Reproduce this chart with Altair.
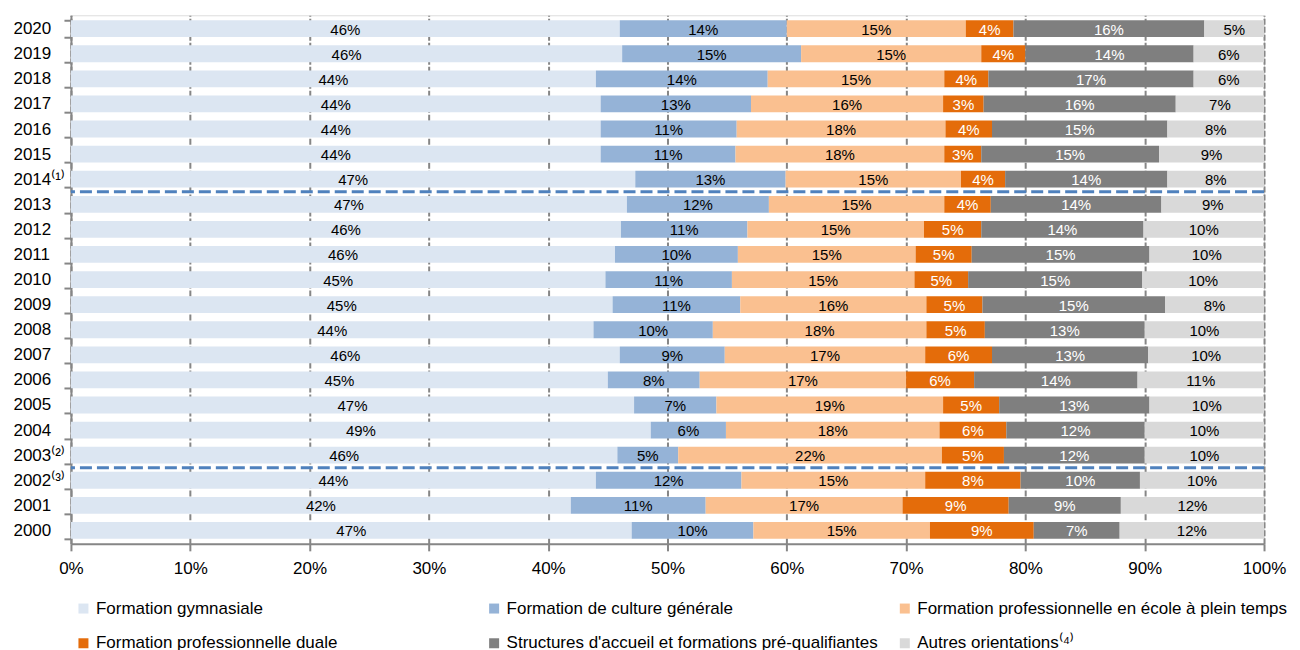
import altair as alt
import pandas as pd

years = ["2020", "2019", "2018", "2017", "2016", "2015", "2014⁽¹⁾", "2013", "2012", "2011",
         "2010", "2009", "2008", "2007", "2006", "2005", "2004", "2003⁽²⁾", "2002⁽³⁾", "2001", "2000"]
categories = ["Formation gymnasiale", "Formation de culture générale",
              "Formation professionnelle en école à plein temps", "Formation professionnelle duale",
              "Structures d'accueil et formations pré-qualifiantes", "Autres orientations⁽⁴⁾"]
colors = ["#DCE6F2", "#95B3D7", "#FAC090", "#E46C0A", "#7F7F7F", "#D9D9D9"]

gymnasiale = [46.0, 46.2, 44.0, 44.4, 44.4, 44.4, 47.3, 46.6, 46.1, 45.6, 44.8, 45.4, 43.8, 46.0, 45.0, 47.2, 48.6, 45.8, 44.0, 41.9, 47.0]
culture = [14.0, 15.0, 14.4, 12.6, 11.4, 11.3, 12.6, 11.9, 10.6, 10.3, 10.6, 10.7, 10.0, 8.8, 7.7, 6.9, 6.3, 5.1, 12.2, 11.3, 10.2]
ecole = [15.0, 15.1, 14.8, 16.1, 17.5, 17.5, 14.7, 14.7, 14.8, 14.9, 15.3, 15.6, 17.9, 16.8, 17.3, 19.0, 17.9, 22.1, 15.4, 16.5, 14.8]
duale = [4.0, 3.7, 3.7, 3.4, 3.9, 3.1, 3.7, 3.9, 4.8, 4.7, 4.5, 4.7, 4.9, 5.6, 5.7, 4.7, 5.6, 5.2, 8.0, 8.9, 8.7]
accueil = [16.0, 14.1, 17.2, 16.1, 14.7, 14.9, 13.6, 14.3, 13.6, 14.9, 14.6, 15.3, 13.4, 13.1, 13.7, 12.6, 11.6, 11.8, 10.0, 9.4, 7.2]
autres = [5.0, 5.9, 5.9, 7.4, 8.1, 8.8, 8.1, 8.6, 10.1, 9.6, 10.2, 8.3, 10.0, 9.7, 10.6, 9.6, 10.0, 10.0, 10.4, 12.0, 12.1]

separators = ["2014⁽¹⁾", "2003⁽²⁾"]
x_ticks = [0, 0.1, 0.2, 0.3, 0.4, 0.5, 0.6, 0.7, 0.8, 0.9, 1.0]

series = [gymnasiale, culture, ecole, duale, accueil, autres]
rows = []
for ci, (cat, vals) in enumerate(zip(categories, series)):
    for y, v in zip(years, vals):
        rows.append({"year": y, "cat": cat, "order": ci, "value": v / 100.0})
df = pd.DataFrame(rows)

W, H = 1194, 529
P_IN, P_OUT = 0.33, 0.2
step = H / (len(years) - P_IN + 2 * P_OUT)
FONT = "Liberation Sans"
GRAY = "#868686"

ysc = alt.Scale(domain=years, paddingInner=P_IN, paddingOuter=P_OUT)

base = alt.Chart(df)

bars = base.mark_bar().encode(
    y=alt.Y("year:N", scale=ysc, title=None,
            axis=alt.Axis(labelAlign="left", labelPadding=51, tickBand="extent", tickSize=7,
                          tickWidth=2, tickColor=GRAY, domainColor=GRAY, domainWidth=2,
                          labelFontSize=17, labelColor="#000000", labelFont=FONT,
                          grid=False, title=None)),
    x=alt.X("value:Q", stack="zero", scale=alt.Scale(domain=[0, 1], nice=False), title=None,
            axis=alt.Axis(values=x_ticks, format=".0%", labelFontSize=17, labelColor="#000000",
                          labelFont=FONT, domainColor=GRAY, domainWidth=2, tickColor=GRAY,
                          tickWidth=2, tickSize=7, labelPadding=10, grid=True, gridColor=GRAY,
                          gridWidth=2, gridDash=[6, 2], labelFlush=False, title=None)),
    color=alt.Color("cat:N", scale=alt.Scale(domain=categories, range=colors),
                    legend=alt.Legend(orient="none", legendX=4, legendY=585, columns=3,
                                      direction="horizontal", title=None,
                                      symbolType="square", symbolSize=100, symbolStrokeWidth=0,
                                      labelFontSize=17, labelFont=FONT, labelColor="#000000",
                                      labelLimit=0, gridAlign="all", columnPadding=18,
                                      rowPadding=17)),
    order=alt.Order("order:Q"),
)

labels = base.transform_stack(
    stack="value", groupby=["year"], as_=["v0", "v1"],
    sort=[alt.SortField("order", "ascending")]
).transform_calculate(
    mid="(datum.v0 + datum.v1) / 2"
).mark_text(fontSize=15, font=FONT, baseline="middle", dy=1).encode(
    y=alt.Y("year:N", scale=ysc, title=None),
    x=alt.X("mid:Q", title=None),
    text=alt.Text("value:Q", format=".0%"),
    color=alt.condition("datum.order == 3 || datum.order == 4",
                        alt.value("#FFFFFF"), alt.value("#000000")),
)

sep_df = pd.DataFrame({"year": separators})
rules = alt.Chart(sep_df).mark_rule(color="#4F81BD", strokeWidth=3, strokeDash=[12, 5],
                                    yOffset=step / 2).encode(
    y=alt.Y("year:N", scale=ysc, title=None)
)

chart = alt.layer(bars, labels, rules).properties(
    width=W, height=H,
    autosize=alt.AutoSizeParams(type="none"),
    padding={"left": 63, "top": 7, "right": 28, "bottom": 130},
).configure_view(stroke=None).configure(font=FONT)

chart.save("out.html", embed_options={"renderer": "svg", "actions": False})
